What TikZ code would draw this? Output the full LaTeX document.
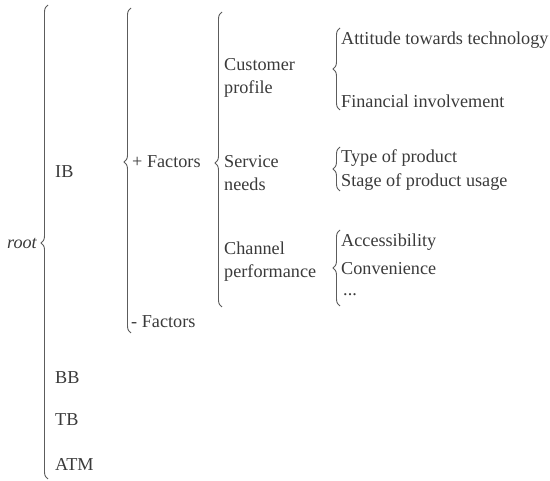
\documentclass[tikz,border=0pt]{standalone}
\usepackage{fontspec}
\setmainfont{Liberation Serif}
\usetikzlibrary{decorations.pathreplacing}
\definecolor{ink}{HTML}{3A3A3A}
\definecolor{rulegray}{HTML}{5C5C5C}
\begin{document}
\begin{tikzpicture}[x=1pt,y=-1pt,
  item/.style={anchor=west,inner sep=0pt,text=ink,
    font=\fontsize{18.2}{23}\selectfont,align=left},
  curly/.style={draw=rulegray,line width=0.9pt,decorate,
    decoration={brace,amplitude=7pt,aspect=#1}},
  curly/.default=0.5]
\useasboundingbox (0,0) rectangle (550,481);

% level 0
\node[item,anchor=east,font=\fontsize{18.2}{23}\selectfont\itshape] (root) at (37,243) {root};
\coordinate (b0top) at (48,5);
\coordinate (b0bot) at (48,479);
\draw[curly=0.498] (b0bot) -- (b0top);

% level 1
\node[item] (ib)  at (55,172) {IB};
\node[item] (bb)  at (55,378) {BB};
\node[item] (tb)  at (55,420) {TB};
\node[item] (atm) at (55,464) {ATM};

\coordinate (b1top) at (131,8);
\coordinate (b1bot) at (131,333);
\draw[curly=0.526] (b1bot) -- (b1top);

% level 2
\node[item] (plus)  at (132,162) {+ Factors};
\node[item] (minus) at (131,322) {- Factors};

\coordinate (b2top) at (222,12);
\coordinate (b2bot) at (222,307);
\draw[curly=0.488] (b2bot) -- (b2top);

% level 3
\node[item] (profile) at (224,78)  {Customer\\profile};
\node[item] (needs)   at (224,173) {Service\\needs};
\node[item] (channel) at (224,262) {Channel\\performance};

% level 4
\coordinate (baTop) at (340,28);
\coordinate (baBot) at (340,110);
\draw[curly] (baBot) -- (baTop);
\node[item] (attitude)  at (341,40)  {Attitude towards technology};
\node[item] (financial) at (341,101) {Financial involvement};

\coordinate (bbTop) at (340,147);
\coordinate (bbBot) at (340,191);
\draw[curly] (bbBot) -- (bbTop);
\node[item] (type)  at (341,158) {Type of product};
\node[item] (stage) at (341,182) {Stage of product usage};

\coordinate (bcTop) at (340,230);
\coordinate (bcBot) at (340,306);
\draw[curly] (bcBot) -- (bcTop);
\node[item] (access) at (341,242) {Accessibility};
\node[item] (conv)   at (341,269) {Convenience};
\node[item] (more)   at (343,295) {...};
\end{tikzpicture}
\end{document}
